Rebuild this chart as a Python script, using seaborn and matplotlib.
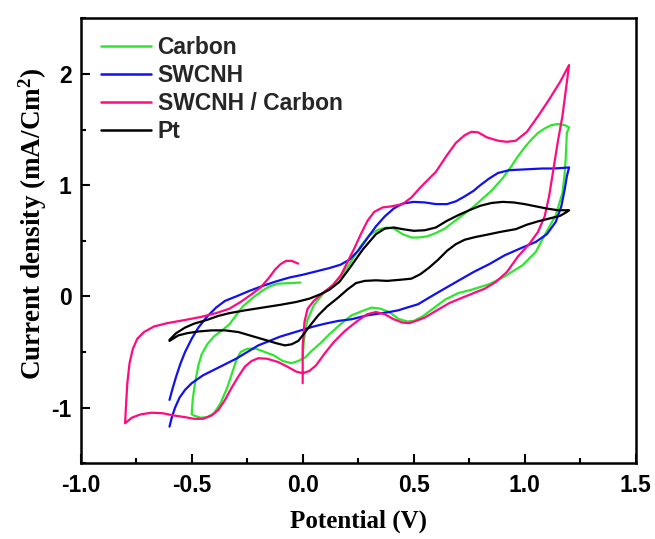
import matplotlib
matplotlib.use("Agg")
import matplotlib.pyplot as plt
import seaborn as sns
from matplotlib.ticker import MultipleLocator

# ---------------- data (potential V, current density mA/cm^2) ----------------
carbon_v = [0.0, 0.005, 0.02, 0.05, 0.09, 0.14, 0.18, 0.22, 0.26, 0.30, 0.34, 0.38, 0.41, 0.45,
            0.49, 0.52, 0.56, 0.60, 0.64, 0.68, 0.72, 0.76, 0.80, 0.85, 0.90, 0.94, 0.97, 1.00,
            1.03, 1.06, 1.09, 1.12, 1.15, 1.18, 1.20,
            1.19, 1.185, 1.18, 1.17, 1.14, 1.09, 1.05, 0.99, 0.91, 0.84, 0.76, 0.70, 0.64, 0.58,
            0.54, 0.50, 0.47, 0.43, 0.39, 0.35, 0.31, 0.27, 0.22, 0.17, 0.12, 0.08, 0.04, 0.01,
            -0.02, -0.05, -0.09, -0.13, -0.17, -0.21, -0.25, -0.28, -0.30, -0.32, -0.34, -0.37,
            -0.40, -0.43, -0.46, -0.49, -0.50,
            -0.495, -0.485, -0.47, -0.455, -0.43, -0.40, -0.36, -0.33, -0.30, -0.27, -0.23,
            -0.19, -0.15, -0.11, -0.06, -0.01]
carbon_i = [-0.55, -0.40, -0.22, -0.08, 0.02, 0.11, 0.20, 0.32, 0.45, 0.55, 0.60, 0.62, 0.61, 0.56,
            0.53, 0.53, 0.54, 0.57, 0.61, 0.67, 0.73, 0.79, 0.86, 0.95, 1.06, 1.17, 1.26, 1.34,
            1.41, 1.47, 1.51, 1.54, 1.55, 1.54, 1.52,
            1.47, 1.25, 1.10, 0.93, 0.73, 0.55, 0.40, 0.28, 0.18, 0.11, 0.06, 0.03, -0.03, -0.12,
            -0.18, -0.22, -0.225, -0.20, -0.14, -0.11, -0.10, -0.13, -0.17, -0.25, -0.34, -0.42,
            -0.49, -0.55, -0.58, -0.60, -0.58, -0.53, -0.50, -0.47, -0.47, -0.50, -0.58, -0.70,
            -0.82, -0.96, -1.05, -1.085, -1.09, -1.07, -1.06,
            -0.92, -0.78, -0.62, -0.52, -0.43, -0.36, -0.30, -0.25, -0.17, -0.09, -0.02,
            0.04, 0.09, 0.115, 0.12, 0.125]

swcnh_v = [-0.60, -0.585, -0.57, -0.55, -0.53, -0.50, -0.47, -0.43, -0.39, -0.35, -0.30, -0.24,
           -0.18, -0.12, -0.06, 0.0, 0.06, 0.12, 0.17, 0.21, 0.25, 0.29, 0.33, 0.37, 0.41, 0.45,
           0.50, 0.55, 0.60, 0.65, 0.69, 0.73, 0.77, 0.80, 0.84, 0.88, 0.93, 0.98, 1.03, 1.08,
           1.13, 1.17, 1.20,
           1.19, 1.18, 1.165, 1.14, 1.10, 1.05, 0.99, 0.91, 0.84, 0.77, 0.70, 0.63, 0.57, 0.52,
           0.47, 0.43, 0.39, 0.34, 0.29, 0.22, 0.16, 0.10, 0.05, 0.0, -0.05, -0.10, -0.15, -0.20,
           -0.25, -0.30, -0.35, -0.40, -0.45, -0.50, -0.53, -0.555, -0.575, -0.59, -0.60]
swcnh_i = [-0.93, -0.82, -0.72, -0.60, -0.50, -0.38, -0.28, -0.18, -0.10, -0.04, 0.00, 0.05,
           0.095, 0.135, 0.17, 0.195, 0.225, 0.255, 0.285, 0.33, 0.41, 0.52, 0.63, 0.72, 0.79,
           0.835, 0.85, 0.845, 0.83, 0.83, 0.855, 0.90, 0.95, 1.00, 1.06, 1.11, 1.135, 1.14,
           1.145, 1.15, 1.15, 1.155, 1.16,
           1.08, 0.96, 0.81, 0.67, 0.56, 0.49, 0.44, 0.37, 0.29, 0.22, 0.14, 0.06, -0.01, -0.07,
           -0.10, -0.125, -0.14, -0.155, -0.17, -0.205, -0.22, -0.245, -0.27, -0.30, -0.33,
           -0.36, -0.40, -0.44, -0.50, -0.56, -0.61, -0.66, -0.71, -0.78, -0.84, -0.91, -1.00,
           -1.09, -1.17]

mix_v = [0.0, 0.0, 0.008, 0.022, 0.05, 0.09, 0.135, 0.172, 0.202, 0.232, 0.262, 0.292, 0.322,
         0.36, 0.40, 0.45, 0.49, 0.53, 0.57, 0.60, 0.65, 0.69, 0.73, 0.76, 0.79, 0.83, 0.88,
         0.92, 0.96, 1.01, 1.06, 1.11, 1.16, 1.20,
         1.185, 1.17, 1.15, 1.13, 1.11, 1.09, 1.06, 1.02, 0.97, 0.92, 0.87, 0.82, 0.77, 0.72,
         0.66, 0.60, 0.55, 0.51, 0.48, 0.45, 0.41, 0.37, 0.33, 0.29, 0.24, 0.19, 0.14, 0.10,
         0.06, 0.03, 0.0, -0.03, -0.07, -0.11, -0.16, -0.20, -0.23, -0.26, -0.29, -0.32, -0.35,
         -0.38, -0.41, -0.45, -0.49, -0.53, -0.58, -0.63, -0.68, -0.73, -0.77, -0.80,
         -0.795, -0.79, -0.78, -0.765, -0.745, -0.715, -0.67, -0.61, -0.54, -0.46, -0.39, -0.33,
         -0.28, -0.23, -0.19, -0.155, -0.125, -0.10, -0.075, -0.05, -0.02]
mix_i = [-0.78, -0.45, -0.23, -0.11, -0.04, 0.03, 0.10, 0.19, 0.31, 0.43, 0.56, 0.68, 0.76,
         0.80, 0.81, 0.83, 0.89, 0.98, 1.06, 1.12, 1.27, 1.38, 1.45, 1.48, 1.475, 1.43, 1.40,
         1.39, 1.40, 1.48, 1.62, 1.77, 1.93, 2.08,
         1.85, 1.62, 1.40, 1.15, 0.90, 0.72, 0.58, 0.47, 0.36, 0.22, 0.13, 0.07, 0.03, -0.01,
         -0.06, -0.13, -0.19, -0.22, -0.24, -0.235, -0.205, -0.16, -0.14, -0.16, -0.23, -0.31,
         -0.41, -0.51, -0.62, -0.67, -0.69, -0.675, -0.63, -0.59, -0.56, -0.555, -0.58, -0.63,
         -0.72, -0.82, -0.93, -1.02, -1.07, -1.10, -1.10, -1.085, -1.07, -1.05, -1.045, -1.06,
         -1.09, -1.14,
         -0.95, -0.78, -0.60, -0.47, -0.38, -0.32, -0.27, -0.24, -0.215, -0.185, -0.15, -0.11,
         -0.05, 0.02, 0.08, 0.16, 0.24, 0.29, 0.32, 0.32, 0.295]

pt_v = [-0.60, -0.57, -0.53, -0.49, -0.43, -0.38, -0.33, -0.26, -0.18, -0.10, -0.03, 0.03, 0.08,
        0.12, 0.165, 0.21, 0.27, 0.33, 0.37, 0.41, 0.45, 0.50, 0.55, 0.60, 0.65, 0.70, 0.75,
        0.80, 0.85, 0.90, 0.95, 1.00, 1.05, 1.10, 1.15, 1.20,
        1.19, 1.16, 1.11, 1.06, 1.01, 0.96, 0.89, 0.83, 0.78, 0.73, 0.69, 0.65, 0.61, 0.57,
        0.53, 0.49, 0.44, 0.38, 0.33, 0.28, 0.24, 0.20, 0.16, 0.11, 0.07, 0.03, 0.0, -0.02,
        -0.05, -0.08, -0.12, -0.17, -0.23, -0.29, -0.35, -0.41, -0.47, -0.52, -0.56, -0.60]
pt_i = [-0.39, -0.33, -0.28, -0.245, -0.21, -0.175, -0.15, -0.125, -0.10, -0.075, -0.05, -0.02,
        0.02, 0.06, 0.13, 0.25, 0.42, 0.56, 0.61, 0.62, 0.605, 0.59, 0.595, 0.62, 0.68, 0.73,
        0.775, 0.815, 0.84, 0.85, 0.845, 0.83, 0.81, 0.79, 0.775, 0.775,
        0.76, 0.725, 0.70, 0.675, 0.645, 0.605, 0.58, 0.555, 0.535, 0.51, 0.47, 0.41, 0.33,
        0.26, 0.20, 0.16, 0.15, 0.14, 0.145, 0.14, 0.12, 0.06, -0.01, -0.09, -0.17, -0.27,
        -0.35, -0.40, -0.43, -0.44, -0.42, -0.39, -0.355, -0.32, -0.305, -0.305, -0.315,
        -0.33, -0.35, -0.40]

series_labels = ["Carbon", "SWCNH", "SWCNH / Carbon", "Pt"]
series_colors = ["#2EE62E", "#1010F0", "#FF0A80", "#000000"]
x_ticks = [-1.0, -0.5, 0.0, 0.5, 1.0, 1.5]
y_ticks = [-1, 0, 1, 2]

# ---------------- style ----------------
sns.set_theme(style="ticks")
plt.rcParams.update({
    "font.family": ["Liberation Sans", "DejaVu Sans"],
    "mathtext.fontset": "custom",
    "mathtext.rm": "Liberation Serif:bold",
    "mathtext.bf": "Liberation Serif:bold",
    "mathtext.it": "Liberation Serif:bold:italic",
    "axes.linewidth": 1.8,
    "axes.edgecolor": "black",
})

fig = plt.figure(figsize=(6.55, 5.39), dpi=100)
ax = fig.add_axes([0.1232, 0.1404, 0.8473, 0.8256])

data = [(carbon_v, carbon_i), (swcnh_v, swcnh_i), (mix_v, mix_i), (pt_v, pt_i)]
for (v, i), lab, col in zip(data, series_labels, series_colors):
    sns.lineplot(x=v, y=i, sort=False, estimator=None, color=col, linewidth=1.6,
                 label=lab, ax=ax)

ax.set_xlim(-1.0, 1.5)
ax.set_ylim(-1.5, 2.5)
ax.set_xticks(x_ticks)
ax.set_yticks(y_ticks)
ax.set_xticklabels([f"{t:.1f}" for t in x_ticks])
ax.set_yticklabels([f"{t:d}" for t in y_ticks])
ax.xaxis.set_minor_locator(MultipleLocator(0.25))
ax.yaxis.set_minor_locator(MultipleLocator(0.5))
ax.tick_params(which="both", direction="in", top=False, right=False, width=1.5, color="black")
ax.tick_params(which="major", length=6.5)
ax.tick_params(which="minor", length=3.5)
ax.tick_params(axis="x", which="major", pad=8)
ax.tick_params(axis="y", which="major", pad=6.5)
for lab in ax.get_xticklabels() + ax.get_yticklabels():
    lab.set_fontfamily("Liberation Sans")
    lab.set_fontweight("bold")
    lab.set_fontsize(16.5)
    lab.set_color("black")
for sp in ax.spines.values():
    sp.set_visible(True)
    sp.set_linewidth(1.8)
    sp.set_color("black")

ax.set_xlabel("Potential (V)", fontfamily="Liberation Serif", fontweight="bold",
              fontsize=18, color="black")
ax.set_ylabel("Current density (mA/Cm$^{2}$)", fontfamily="Liberation Serif",
              fontweight="bold", fontsize=19.5, color="black")
ax.xaxis.set_label_coords(0.5, -0.105)
ax.yaxis.set_label_coords(-0.058, 0.539)

handles, labels = ax.get_legend_handles_labels()
leg = ax.legend(handles, labels, loc="upper left", bbox_to_anchor=(0.036, 0.96),
                frameon=False, borderpad=0, borderaxespad=0, handlelength=2.2,
                handletextpad=0.28, labelspacing=0.22,
                prop={"family": "Liberation Sans", "weight": "bold", "size": 16.5})
for h in leg.get_lines():
    h.set_linewidth(1.8)

fig.savefig("out.png", dpi=100, facecolor="white")
